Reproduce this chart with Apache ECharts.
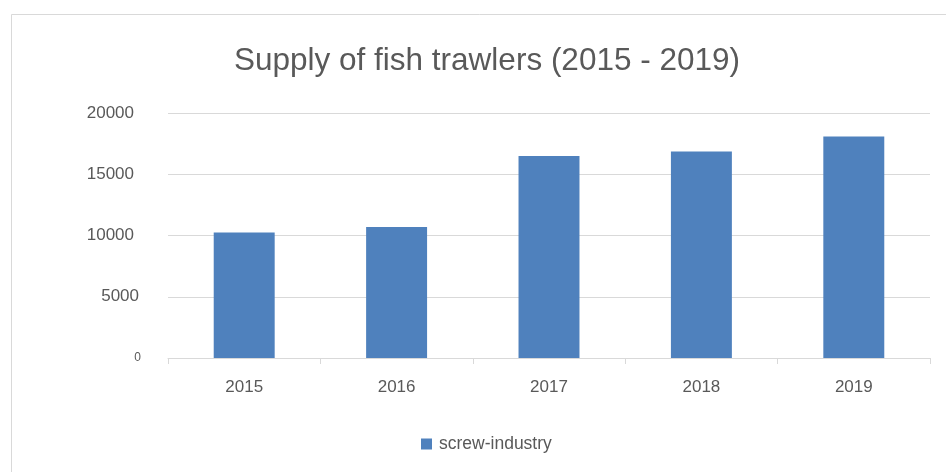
<!DOCTYPE html>
<html>
<head>
<meta charset="utf-8">
<style>
  html, body { margin: 0; padding: 0; background: #ffffff; }
  #chart { width: 946px; height: 472px; }
</style>
<script src="https://cdn.jsdelivr.net/npm/echarts@6/dist/echarts.min.js"></script>
</head>
<body>
<div id="chart"></div>
<script>
// Supply of fish trawlers per year
const years = ['2015', '2016', '2017', '2018', '2019'];
const supplyValues = [10250, 10700, 16500, 16860, 18090];
const seriesName = 'screw-industry';
const yTicks = [0, 5000, 10000, 15000, 20000];

const textColor = '#595959';
const lineColor = '#d9d9d9';
const barColor = '#4f81bd';

const chart = echarts.init(document.getElementById('chart'), null, { renderer: 'canvas' });

chart.setOption({
  animation: false,
  backgroundColor: '#ffffff',
  textStyle: { fontFamily: 'Liberation Sans, Arial, sans-serif' },
  graphic: [{
    type: 'rect',
    silent: true,
    z: -10,
    shape: { x: 11.5, y: 14.5, width: 1000, height: 1000 },
    style: { fill: 'none', stroke: lineColor, lineWidth: 1 }
  }],
  title: {
    text: 'Supply of fish trawlers (2015 - 2019)',
    left: 482,
    top: 40,
    textAlign: 'center',
    textStyle: {
      color: textColor,
      fontSize: 31.5,
      fontWeight: 'normal',
      fontFamily: 'Liberation Sans, Arial, sans-serif'
    }
  },
  legend: {
    data: [seriesName],
    left: 421,
    top: 435,
    icon: 'rect',
    itemWidth: 11,
    itemHeight: 11,
    itemGap: 10,
    padding: 0,
    textStyle: {
      color: textColor,
      fontSize: 17.5,
      fontFamily: 'Liberation Sans, Arial, sans-serif',
      padding: [0, 0, 0, 2]
    }
  },
  grid: { left: 168, right: 16, top: 113, bottom: 114, containLabel: false },
  xAxis: {
    type: 'category',
    data: years,
    boundaryGap: true,
    axisLine: { show: true, lineStyle: { color: lineColor, width: 1 } },
    axisTick: { show: true, length: 6, alignWithLabel: false, lineStyle: { color: lineColor } },
    axisLabel: {
      color: textColor,
      fontSize: 17,
      margin: 21,
      fontFamily: 'Liberation Sans, Arial, sans-serif'
    },
    splitLine: { show: false }
  },
  yAxis: {
    type: 'value',
    min: yTicks[0],
    max: yTicks[yTicks.length - 1],
    interval: yTicks[1] - yTicks[0],
    axisLine: { show: false },
    axisTick: { show: false },
    splitLine: { show: true, lineStyle: { color: lineColor, width: 1 } },
    axisLabel: {
      margin: 27,
      formatter: function (v) {
        if (v === 0) return '{z|' + v + '}';
        if (v === 5000) return '{f|' + v + '}';
        return '{b|' + v + '}';
      },
      rich: {
        b: { color: textColor, fontSize: 17, padding: [0, 7, 0, 0], fontFamily: 'Liberation Sans, Arial, sans-serif' },
        f: { color: textColor, fontSize: 17, padding: [0, 2, 0, 0], fontFamily: 'Liberation Sans, Arial, sans-serif' },
        z: { color: textColor, fontSize: 12, padding: [0, 0, 0, 0], fontFamily: 'Liberation Sans, Arial, sans-serif' }
      }
    }
  },
  series: [{
    name: seriesName,
    type: 'bar',
    data: supplyValues,
    barWidth: '40%',
    itemStyle: { color: barColor }
  }]
});
</script>
</body>
</html>
